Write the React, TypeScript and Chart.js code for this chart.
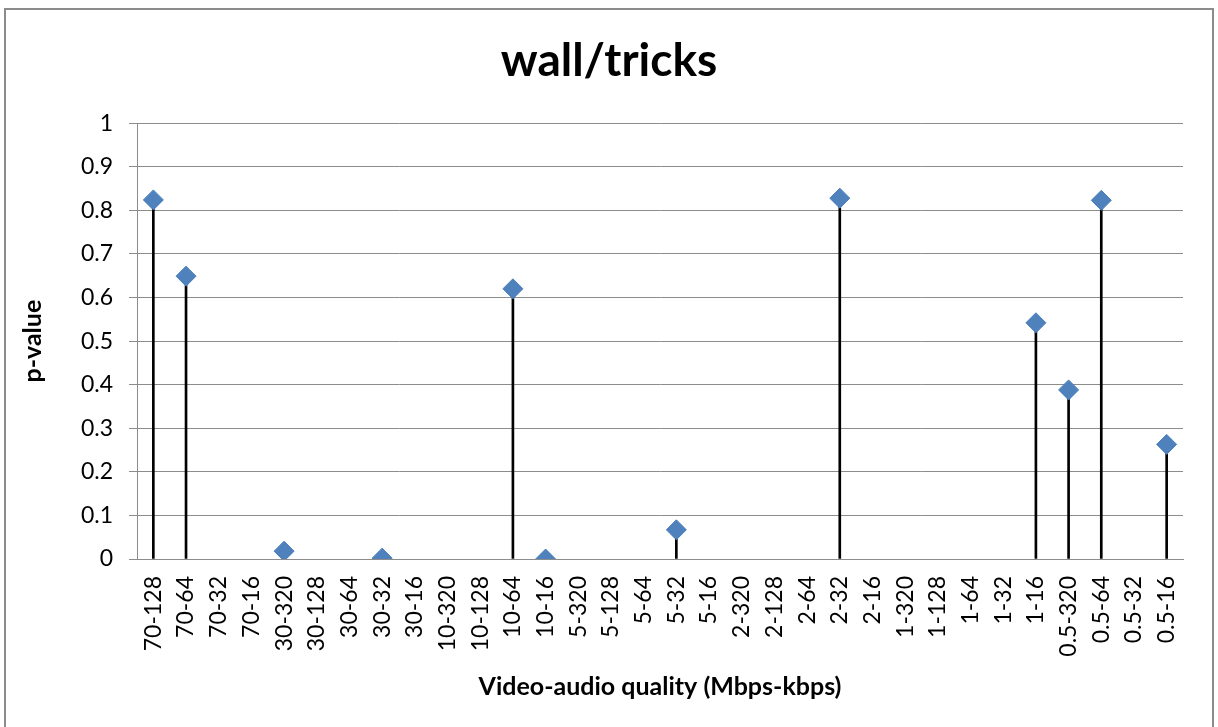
import React, { useEffect, useRef } from "react";
import { Chart, registerables } from "chart.js";

Chart.register(...registerables);

const categories: string[] = [
  "70-128", "70-64", "70-32", "70-16",
  "30-320", "30-128", "30-64", "30-32", "30-16",
  "10-320", "10-128", "10-64", "10-16",
  "5-320", "5-128", "5-64", "5-32", "5-16",
  "2-320", "2-128", "2-64", "2-32", "2-16",
  "1-320", "1-128", "1-64", "1-32", "1-16",
  "0.5-320", "0.5-64", "0.5-32", "0.5-16",
];

const pValues: (number | null)[] = [
  0.824, 0.649, null, null,
  0.018, null, null, 0.002, null,
  null, null, 0.62, 0.0,
  null, null, null, 0.067, null,
  null, null, null, 0.828, null,
  null, null, null, null, 0.542,
  0.388, 0.823, null, 0.263,
];

const chartTitle = "wall/tricks";
const xTitle = "Video-audio quality (Mbps-kbps)";
const yTitle = "p-value";

const FONT = "Lato, 'Open Sans', sans-serif";

const borderPlugin = {
  id: "outerBorder",
  afterDraw(chart: any) {
    const ctx = chart.ctx;
    ctx.save();
    ctx.strokeStyle = "#8c8c8c";
    ctx.lineWidth = 2;
    ctx.strokeRect(5, 9, 1208, 730);
    ctx.restore();
  },
};

export default function App() {
  const ref = useRef<HTMLCanvasElement | null>(null);

  useEffect(() => {
    if (!ref.current) return;
    const chart = new Chart(ref.current, {
      type: "bar",
      data: {
        labels: categories,
        datasets: [
          {
            type: "line",
            label: "p",
            data: pValues,
            showLine: false,
            pointStyle: "rectRot",
            pointRadius: 10,
            pointHoverRadius: 10,
            pointBackgroundColor: "#4F81BD",
            pointBorderColor: "#4A7EBB",
            pointBorderWidth: 1,
            order: 1,
          } as any,
          {
            type: "bar",
            label: "drop",
            data: pValues,
            backgroundColor: "#000000",
            barThickness: 2,
            order: 2,
          } as any,
        ],
      },
      options: {
        responsive: false,
        animation: false,
        events: [],
        layout: { padding: { left: 0, right: 0, top: 0, bottom: 0 } },
        plugins: {
          legend: { display: false },
          tooltip: { enabled: false },
          title: {
            display: true,
            text: chartTitle,
            color: "#000",
            font: { family: FONT, size: 46, weight: "bold", lineHeight: 1.2 },
            padding: { top: 34, bottom: 34 },
          },
        },
        scales: {
          x: {
            offset: true,
            grid: { display: false, drawTicks: false },
            border: { display: true, color: "#8c8c8c", width: 1 },
            ticks: {
              autoSkip: false,
              maxRotation: 90,
              minRotation: 90,
              padding: 17,
              color: "#000",
              font: { family: FONT, size: 23 },
            },
            title: {
              display: true,
              text: xTitle,
              color: "#000",
              font: { family: FONT, size: 25, weight: "bold", lineHeight: 1.2 },
              padding: { top: 25, bottom: 25 },
            },
            afterFit(scale: any) {
              scale.height = 168;
            },
          },
          y: {
            min: 0,
            max: 1,
            grid: { color: "#8c8c8c", lineWidth: 1, tickLength: 8, drawTicks: true },
            border: { display: true, color: "#8c8c8c", width: 1 },
            ticks: {
              stepSize: 0.1,
              padding: 16,
              color: "#000",
              font: { family: FONT, size: 23 },
              callback: (v: any) => String(Number(Number(v).toFixed(1))),
            },
            title: {
              display: true,
              text: yTitle,
              color: "#000",
              font: { family: FONT, size: 25, weight: "bold", lineHeight: 1.2 },
              padding: { top: 18, bottom: 18 },
            },
            afterFit(scale: any) {
              scale.width = 137;
            },
          },
          yRightSpacer: {
            position: "right",
            display: true,
            grid: { display: false, drawTicks: false },
            border: { display: false },
            ticks: { display: false },
            afterFit(scale: any) {
              scale.width = 35;
            },
          },
        },
      },
      plugins: [borderPlugin],
    } as any);
    return () => chart.destroy();
  }, []);

  return (
    <div style={{ position: "absolute", left: 0, top: 0, width: 1218, height: 727, background: "#fff" }}>
      <canvas ref={ref} width={1218} height={727} style={{ display: "block" }} />
    </div>
  );
}
